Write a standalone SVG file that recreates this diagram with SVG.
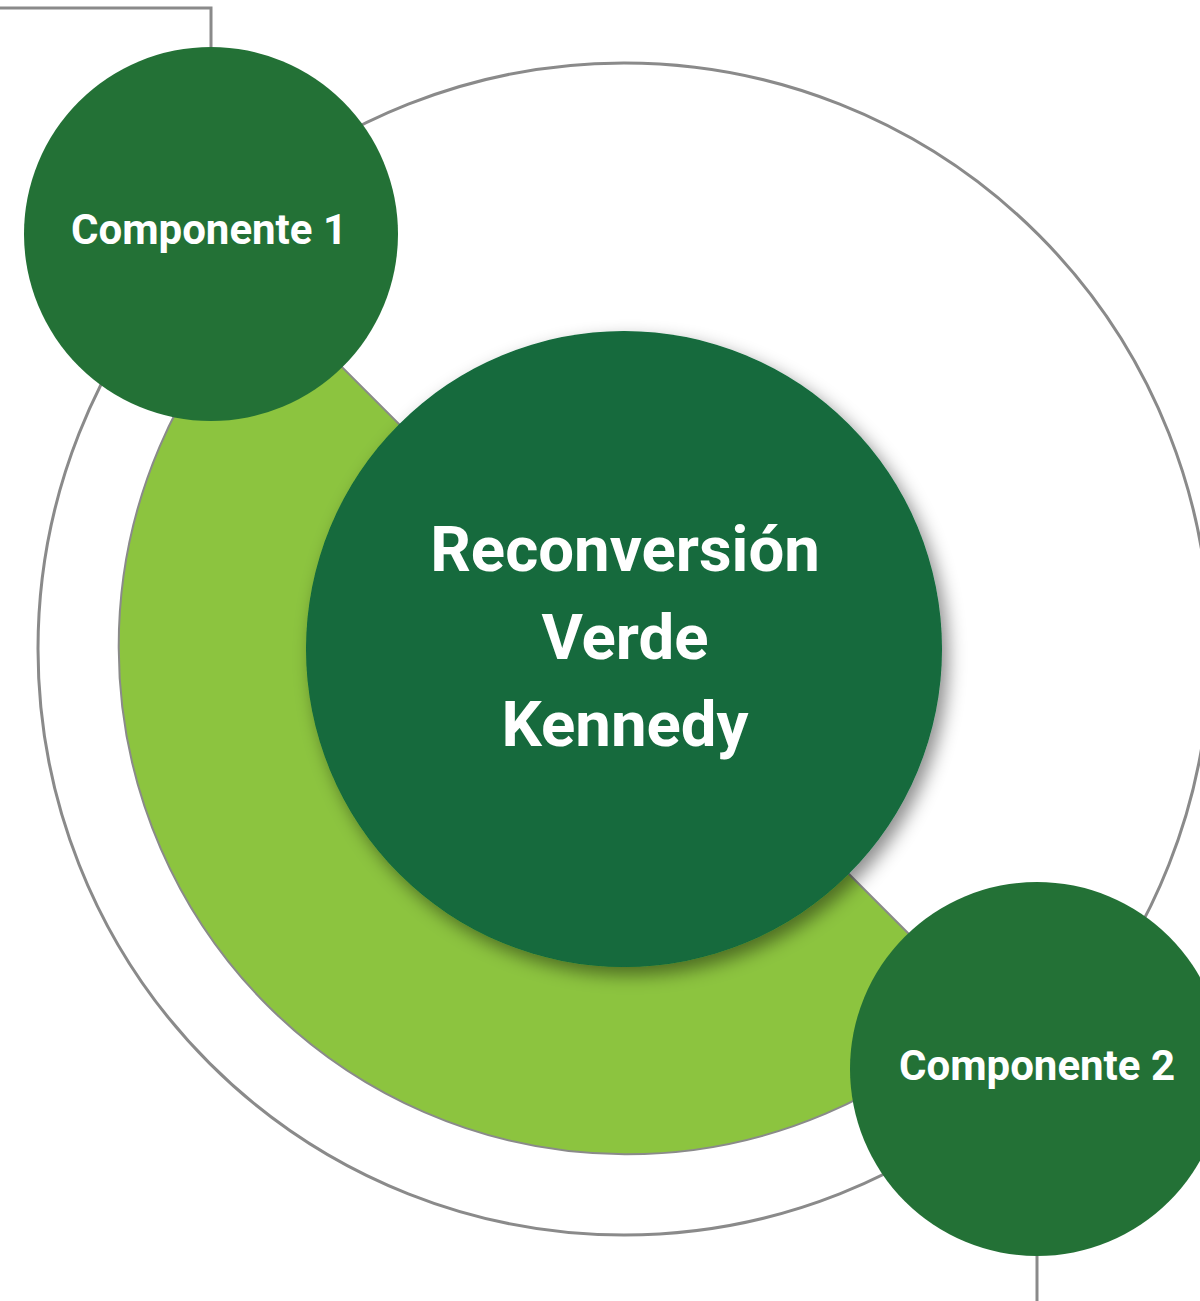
<svg xmlns="http://www.w3.org/2000/svg" width="1200" height="1301" viewBox="0 0 1200 1301">
<style>
.conn{fill:none;stroke:#8a8a8a;stroke-width:3}
.comp{fill:#237136}
.lbl{font-family:Roboto,"Liberation Sans",sans-serif;font-weight:bold;fill:#ffffff;text-anchor:middle}
</style>
<defs>
<filter id="sh" x="-20%" y="-20%" width="140%" height="140%">
<feDropShadow dx="6" dy="8" stdDeviation="9" flood-color="#000" flood-opacity="0.45"/>
</filter>
</defs>
<rect width="1200" height="1301" fill="#ffffff"/>
<g id="outer-ring">
<circle cx="624" cy="649" r="586" fill="none" stroke="#8a8a8a" stroke-width="3"/>
</g>
<g id="half-ring">
<path d="M 264.8 289.8 A 508 508 0 0 0 983.2 1008.2 Z" fill="#8cc43f" stroke="#8a8a8a" stroke-width="2"/>
</g>
<g id="connectors">
<polyline class="conn" points="0,8 211,8 211,47"/>
<line class="conn" x1="1037" y1="1256" x2="1037" y2="1301"/>
</g>
<g id="center">
<circle cx="624" cy="649" r="318" fill="#126a3c" filter="url(#sh)"/>
<text class="lbl" font-size="63.5" x="625" y="571">Reconversión</text>
<text class="lbl" font-size="63.5" x="625" y="659">Verde</text>
<text class="lbl" font-size="63.5" x="625" y="746">Kennedy</text>
</g>
<g id="componente-1">
<circle class="comp" cx="211" cy="234" r="187"/>
<text class="lbl" font-size="42" x="209" y="244">Componente 1</text>
</g>
<g id="componente-2">
<circle class="comp" cx="1037" cy="1069" r="187"/>
<text class="lbl" font-size="42" x="1037" y="1080">Componente 2</text>
</g>
</svg>
